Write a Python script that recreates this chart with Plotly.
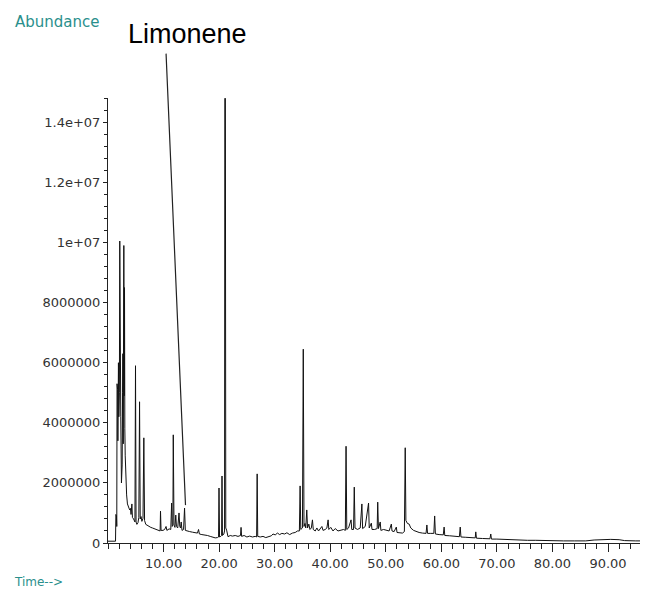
import plotly.graph_objects as go

# Retention time (min) and abundance (millions of counts)
retention_time = [
    0.0, 0.6, 1.0, 1.35, 1.42, 1.52, 1.58, 1.63, 1.68, 1.73, 1.78, 1.83, 1.88, 1.95, 2.05, 2.12,
    2.2, 2.3, 2.42, 2.55, 2.62, 2.68, 2.74, 2.8, 2.85, 2.92, 2.97, 3.03, 3.1, 3.2, 3.35, 3.5,
    3.7, 3.9, 4.05, 4.15, 4.3, 4.4, 4.6, 4.85, 4.95, 5.05, 5.2, 5.4, 5.55, 5.68, 5.8, 5.95,
    6.1, 6.3, 6.45, 6.58, 6.8, 7.1, 7.4, 7.7, 8.0, 8.4, 8.8, 9.2, 9.38, 9.45, 9.55, 9.9,
    10.2, 10.45, 10.6, 11.0, 11.3, 11.45, 11.55, 11.68, 11.75, 11.88, 12.05, 12.2, 12.32, 12.55, 12.78, 12.92,
    13.05, 13.18, 13.32, 13.6, 13.78, 13.92, 14.2, 14.7, 15.2, 15.6, 16.1, 16.3, 16.45, 16.9, 17.4, 17.9,
    18.4, 18.9, 19.3, 19.7, 19.9, 19.98, 20.08, 20.3, 20.45, 20.52, 20.6, 20.85, 20.98, 21.03, 21.13, 21.2,
    21.35, 21.6, 22.0, 22.4, 22.9, 23.4, 23.85, 23.95, 24.05, 24.5, 25.0, 25.5, 26.0, 26.5, 26.75, 26.85,
    26.95, 27.4, 27.9, 28.4, 28.9, 29.4, 29.7, 30.1, 30.5, 30.9, 31.3, 31.8, 32.2, 32.7, 33.2, 33.7,
    34.1, 34.45, 34.58, 34.7, 35.0, 35.15, 35.28, 35.45, 35.6, 35.78, 35.92, 36.15, 36.35, 36.6, 36.8, 36.95,
    37.3, 37.6, 37.9, 38.3, 38.5, 38.7, 39.1, 39.4, 39.62, 39.75, 40.1, 40.5, 40.9, 41.4, 41.9, 42.4,
    42.72, 42.85, 42.98, 43.3, 43.75, 43.88, 44.2, 44.33, 44.46, 44.9, 45.4, 45.7, 45.83, 46.3, 46.9, 47.02,
    47.4, 47.52, 48.0, 48.45, 48.55, 48.68, 49.0, 49.12, 49.6, 50.1, 50.6, 51.0, 51.12, 51.5, 51.9, 52.02,
    52.5, 53.0, 53.35, 53.5, 53.62, 53.9, 54.2, 54.5, 55.0, 55.5, 56.0, 56.6, 57.25, 57.4, 57.52, 58.1,
    58.65, 58.8, 58.93, 59.6, 60.35, 60.5, 60.62, 61.5, 62.4, 63.25, 63.4, 63.53, 64.4, 65.3, 66.1, 66.2,
    66.32, 67.4, 68.75, 68.9, 69.02, 70.0, 71.0, 72.5, 74.0, 75.5, 77.0, 78.5, 80.0, 82.0, 84.0, 86.0,
    87.5, 89.0, 90.5, 92.0, 93.0, 95.0, 97.2,
]
abundance_millions = [
    0.06, 0.05, 0.06, 0.06, 0.95, 0.9, 0.55, 5.3, 3.3, 5.1, 3.4, 5.6, 6.0, 4.2, 5.0, 10.05,
    4.6, 4.2, 2.0, 2.6, 5.0, 6.3, 3.3, 5.2, 9.9, 4.9, 8.5, 3.8, 2.9, 2.0, 1.6, 1.3,
    1.2, 1.1, 1.15, 0.95, 1.3, 0.85, 0.8, 0.7, 5.9, 0.7, 0.62, 0.68, 0.85, 4.7, 0.8, 0.88,
    0.72, 0.82, 3.5, 0.75, 0.62, 0.58, 0.55, 0.52, 0.5, 0.47, 0.44, 0.42, 0.4, 1.06, 0.42, 0.42,
    0.45, 0.55, 0.42, 0.47, 0.45, 1.33, 0.55, 0.6, 3.6, 0.6, 0.52, 0.93, 0.55, 0.5, 1.0, 0.55,
    0.5, 0.7, 0.42, 0.45, 1.16, 0.42, 0.4, 0.38, 0.36, 0.35, 0.33, 0.45, 0.3, 0.28, 0.27, 0.25,
    0.22, 0.2, 0.17, 0.18, 0.2, 1.83, 0.2, 0.22, 0.25, 2.23, 0.25, 0.3, 0.4, 14.8, 14.8, 0.5,
    0.43, 0.21, 0.25, 0.23, 0.25, 0.22, 0.25, 0.52, 0.22, 0.25, 0.2, 0.23, 0.2, 0.22, 0.2, 2.3,
    0.22, 0.2, 0.22, 0.18, 0.2, 0.24, 0.3, 0.27, 0.33, 0.28, 0.32, 0.3, 0.34, 0.28, 0.33, 0.35,
    0.4, 0.4, 1.9, 0.45, 0.5, 6.45, 0.55, 0.65, 0.5, 1.1, 0.5, 0.63, 0.45, 0.5, 0.77, 0.45,
    0.4, 0.5, 0.4, 0.48, 0.55, 0.42, 0.45, 0.5, 0.77, 0.45, 0.52, 0.4, 0.48, 0.4, 0.42, 0.45,
    0.42, 3.22, 0.45, 0.5, 0.77, 0.45, 0.45, 1.86, 0.5, 0.45, 0.5, 1.3, 0.48, 0.55, 1.33, 0.5,
    0.66, 0.45, 0.45, 0.48, 1.36, 0.48, 0.7, 0.42, 0.45, 0.42, 0.4, 0.63, 0.4, 0.38, 0.53, 0.35,
    0.35, 0.33, 0.38, 3.17, 0.75, 0.65, 0.63, 0.5, 0.42, 0.38, 0.35, 0.33, 0.32, 0.6, 0.32, 0.32,
    0.32, 0.9, 0.3, 0.28, 0.27, 0.53, 0.25, 0.24, 0.22, 0.21, 0.53, 0.2, 0.19, 0.18, 0.17, 0.37,
    0.16, 0.15, 0.14, 0.3, 0.13, 0.13, 0.12, 0.11, 0.1, 0.09, 0.09, 0.08, 0.08, 0.07, 0.07, 0.07,
    0.1, 0.12, 0.12, 0.11, 0.08, 0.07, 0.07,
]

x_tick_values = [10, 20, 30, 40, 50, 60, 70, 80, 90]
x_tick_labels = ["10.00", "20.00", "30.00", "40.00", "50.00", "60.00", "70.00", "80.00", "90.00"]
y_tick_values = [0, 2e6, 4e6, 6e6, 8e6, 1e7, 1.2e7, 1.4e7]
y_tick_labels = ["0", "2000000", "4000000", "6000000", "8000000", "1e+07", "1.2e+07", "1.4e+07"]

limonene_label = "Limonene"
limonene_time = 13.95
limonene_abundance = 1.26e6

abundance = [v * 1e6 for v in abundance_millions]

fig = go.Figure()
fig.add_trace(go.Scatter(
    x=retention_time, y=abundance, mode="lines",
    line=dict(color="#111111", width=1), hoverinfo="x+y", showlegend=False,
))

tick_font = dict(family="DejaVu Sans", size=13, color="#333333")
teal = "#2a8f8c"

# page body adds an 8px offset; the figure is sized so the plot area lands at the reference spot
fig.update_layout(
    width=640, height=594,
    margin=dict(l=100, r=0, t=90, b=59, autoexpand=False),
    paper_bgcolor="white", plot_bgcolor="white",
    xaxis=dict(
        range=[0, 97.2], showgrid=False, zeroline=False,
        showline=True, linecolor="#222222", linewidth=1,
        tickmode="array", tickvals=x_tick_values, ticktext=x_tick_labels,
        ticks="outside", ticklen=8, tickcolor="#222222", tickwidth=1,
        tickfont=tick_font,
        minor=dict(dtick=2, tick0=0, ticks="outside", ticklen=5, tickcolor="#222222", showgrid=False),
    ),
    yaxis=dict(
        range=[0, 1.481e7], showgrid=False, zeroline=False,
        showline=True, linecolor="#222222", linewidth=1,
        tickmode="array", tickvals=y_tick_values, ticktext=y_tick_labels,
        ticks="outside", ticklen=4, tickcolor="#222222", tickwidth=1,
        tickfont=tick_font,
        minor=dict(dtick=4e5, tick0=0, ticks="outside", ticklen=3, tickcolor="#222222", showgrid=False),
    ),
    annotations=[
        dict(text="Abundance", xref="paper", yref="paper", x=(13 - 108) / 540, y=(543 - 22) / 445,
             xanchor="left", yanchor="middle", showarrow=False,
             font=dict(family="DejaVu Sans", size=15, color=teal)),
        dict(text="Time-->", xref="paper", yref="paper", x=(12 - 108) / 540, y=(543 - 582) / 445,
             xanchor="left", yanchor="middle", showarrow=False,
             font=dict(family="DejaVu Sans", size=12, color=teal)),
        dict(text=limonene_label, xref="paper", yref="paper", x=(187 - 108) / 540, y=(543 - 34) / 445,
             xanchor="center", yanchor="middle", showarrow=False,
             font=dict(family="Liberation Sans, Arial", size=27, color="black")),
        dict(text="", x=limonene_time, y=limonene_abundance, xref="x", yref="y",
             showarrow=True, arrowhead=0, arrowwidth=1.2, arrowcolor="#222222",
             ax=-19.5, ay=-453, standoff=0, startstandoff=0),
    ],
)

fig.write_html("out.html")
